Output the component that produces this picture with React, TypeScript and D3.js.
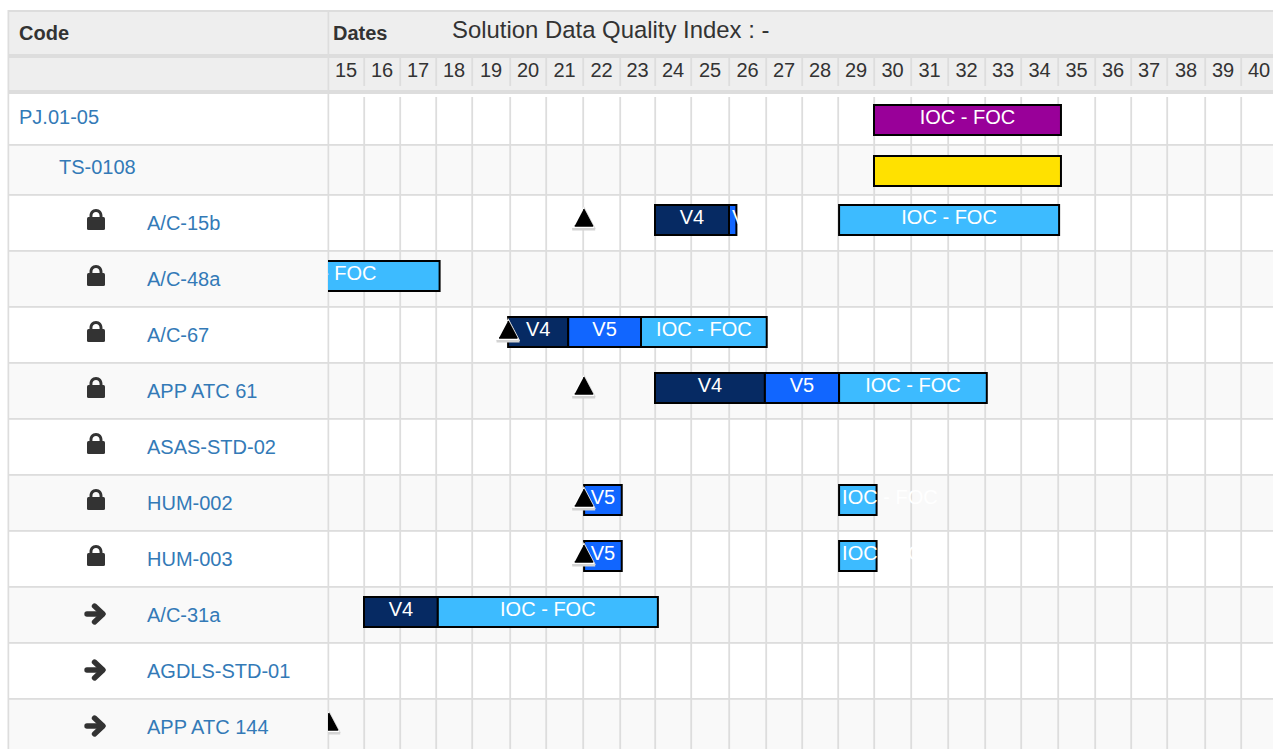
import React from "react";
import * as d3 from "d3";

const weeks = d3.range(15, 41);
const title = "Solution Data Quality Index : -";

const rowCodes = ["PJ.01-05","TS-0108","A/C-15b","A/C-48a","A/C-67","APP ATC 61","ASAS-STD-02","HUM-002","HUM-003","A/C-31a","AGDLS-STD-01","APP ATC 144"];
const rowLevels = [0,1,2,2,2,2,2,2,2,3,3,3];

// phase, row, start week, end week
const barRows = [0,1,2,2,2,3,4,4,4,5,5,5,7,7,8,8,9,9];
const barPhases = ["P","Y","V4","V5","I","I","V4","V5","I","V4","V5","I","V5","I","V5","I","V4","I"];
const barStarts = [30,30,24,26,29.03,12,19.95,21.6,23.6,24,26.97,29.03,22.03,29.03,22.03,29.03,16,18.05];
const barEnds = [35.08,35.08,26,26.2,35.03,18.1,21.6,23.6,27.02,26.97,29.03,33.05,23.05,30.07,23.05,30.07,18.05,24.08];
const phaseLabels: Record<string,string> = {P:"IOC - FOC",Y:"",V4:"V4",V5:"V5",I:"IOC - FOC"};
const phaseColors: Record<string,string> = {P:"#990099",Y:"#ffe100",V4:"#062a63",V5:"#1166ff",I:"#3dbbff"};

const markerRows = [2,4,5,7,8,11];
const markerWeeks = [22,19.93,22,22,22,15];

// column edges of the table layout (the browser's table gave uneven widths)
const edgeWeeks = [12,13,14,...weeks,41];
const edgePixels = [218,255,291,328,364,400,436,472,510,546,583,620,655,691,729,766,802,838,874,911,948,985,1021,1058,1095,1131,1167,1205,1241,1277];
const x = d3.scaleLinear().domain(edgeWeeks).range(edgePixels);

const rowEdges = [94,145,195,251,307,363,419,475,531,587,643,699,755];
const rowTop = (i:number)=>rowEdges[i];
const textBase = [124,174,230,286,342,398,454,510,566,622,678,734];
const barTopOffset = (r:number)=> r<=1?11:10;

const FONT = "'Liberation Sans', Arial, sans-serif";
const LINE = "#dddddd";
const W = 1273, H = 749, LEFT = 328;

let ctx: CanvasRenderingContext2D | null = null;
function textWidth(s:string){
  if(!ctx){ctx=document.createElement("canvas").getContext("2d");}
  ctx!.font = "20px 'Liberation Sans'";
  return ctx!.measureText(s).width;
}

const triLine = d3.line();

function Lock({cx,cy}:{cx:number,cy:number}){
  return <g transform={`translate(${cx},${cy})`} fill="#333">
    <path d="M-9,-1.5 Q-9,-3 -7.5,-3 L7.5,-3 Q9,-3 9,-1.5 L9,8.5 Q9,10 7.5,10 L-7.5,10 Q-9,10 -9,8.5 Z"/>
    <path d="M-6.5,-2 L-6.5,-4 C-6.5,-8 -4,-11 0,-11 C4,-11 6.5,-8 6.5,-4 L6.5,-2 L3.6,-2 L3.6,-4 C3.6,-6.6 2,-8 0,-8 C-2,-8 -3.6,-6.6 -3.6,-4 L-3.6,-2 Z"/>
  </g>;
}
function Arrow({cx,cy}:{cx:number,cy:number}){
  return <g transform={`translate(${cx},${cy})`} fill="none" stroke="#333" strokeWidth={5.4} strokeLinejoin="round" strokeLinecap="round">
    <path d="M-8,0 L7.5,0"/>
    <path d="M-0.5,-8 L8,0 L-0.5,8"/>
  </g>;
}

export default function App(){
  const bars = barRows.map((r,i)=>({r,phase:barPhases[i],s:barStarts[i],e:barEnds[i]}));
  return (
    <svg width={W} height={H} style={{position:"absolute",left:0,top:0,display:"block"}} fontFamily={FONT} fontSize={20}>
      <defs>
        <clipPath id="gantt"><rect x={LEFT} y={0} width={W} height={H}/></clipPath>
      </defs>
      <rect width={W} height={H} fill="#fff"/>

      {/* rows */}
      {rowCodes.map((_,i)=>(
        <rect key={i} x={9} y={rowTop(i)} width={W} height={rowEdges[i+1]-rowEdges[i]} fill={i%2===1?"#f9f9f9":"#fff"}/>
      ))}
      {/* header */}
      <rect x={8} y={10} width={W} height={84} fill="#eeeeee"/>
      <rect x={8} y={10} width={W} height={2} fill={LINE}/>
      <rect x={8} y={54} width={W} height={4} fill={LINE}/>
      <rect x={8} y={90} width={W} height={4} fill={LINE}/>
      <rect x={7.5} y={10} width={1.7} height={H} fill={LINE}/>
      <rect x={LEFT-0.5} y={10} width={1.7} height={H} fill={LINE}/>

      {/* grid */}
      {weeks.slice(1).map(w=>(
        <g key={w}>
          <rect x={x(w)-0.7} y={58} width={1.8} height={28} fill={LINE}/>
          <rect x={x(w)-0.7} y={97} width={1.8} height={H-97} fill={LINE}/>
        </g>
      ))}
      {rowEdges.slice(1,-1).map(y=>(
        <rect key={y} x={9} y={y-1} width={W} height={1.8} fill={LINE}/>
      ))}

      {/* header text */}
      <text x={19} y={40} fontWeight="bold" fill="#333">Code</text>
      <text x={333} y={40} fontWeight="bold" fill="#333">Dates</text>
      <text x={452} y={38} fontSize={23.9} fill="#333">{title}</text>
      {weeks.map(w=>(
        <text key={w} x={(x(w)+x(w+1))/2} y={77} textAnchor="middle" fill="#333">{w}</text>
      ))}

      {/* codes */}
      {rowCodes.map((c,i)=>{
        const lv = rowLevels[i];
        const tx = lv===0?19:lv===1?59:147;
        const cy = (rowEdges[i]+rowEdges[i+1])/2;
        return <g key={c}>
          {lv===2 && <Lock cx={96} cy={cy-3}/>}
          {lv===3 && <Arrow cx={95} cy={cy-1}/>}
          <text x={tx} y={textBase[i]} fill="#337ab7">{c}</text>
        </g>;
      })}

      {/* bars */}
      <g clipPath="url(#gantt)">
        {bars.map((b,i)=>{
          const x0=x(b.s), x1=x(b.e), y0=rowTop(b.r)+barTopOffset(b.r);
          return <rect key={i} x={x0} y={y0} width={x1-x0} height={30} fill={phaseColors[b.phase]} stroke="#000" strokeWidth={2}/>;
        })}
        {bars.map((b,i)=>{
          const label=phaseLabels[b.phase];
          if(!label) return null;
          const x0=x(b.s), x1=x(b.e), y0=rowTop(b.r)+barTopOffset(b.r);
          const fits=textWidth(label)+6 <= x1-x0;
          return <text key={i} x={fits?(x0+x1)/2:x0+3} y={y0+19} textAnchor={fits?"middle":"start"} fill="#fff">{label}</text>;
        })}
        {markerRows.map((r,i)=>{
          const cx=x(markerWeeks[i])+0.7, t=rowTop(r)+11.5;
          const outer=triLine([[cx,t],[cx+11.5,t+22],[cx-11.5,t+22]])!;
          const inner=triLine([[cx,t+2.5],[cx+9,t+19.5],[cx-9,t+19.5]])!;
          return <g key={i}>
            <path d={outer} fill="#ffffff" stroke="#dcdcdc" strokeWidth={1}/>
            <rect x={cx-11.5} y={t+21.5} width={23} height={2.5} fill="#d4d4d4"/>
            <path d={inner} fill="#000" stroke="#000" strokeWidth={1.4} strokeLinejoin="round"/>
          </g>;
        })}
      </g>
    </svg>
  );
}
